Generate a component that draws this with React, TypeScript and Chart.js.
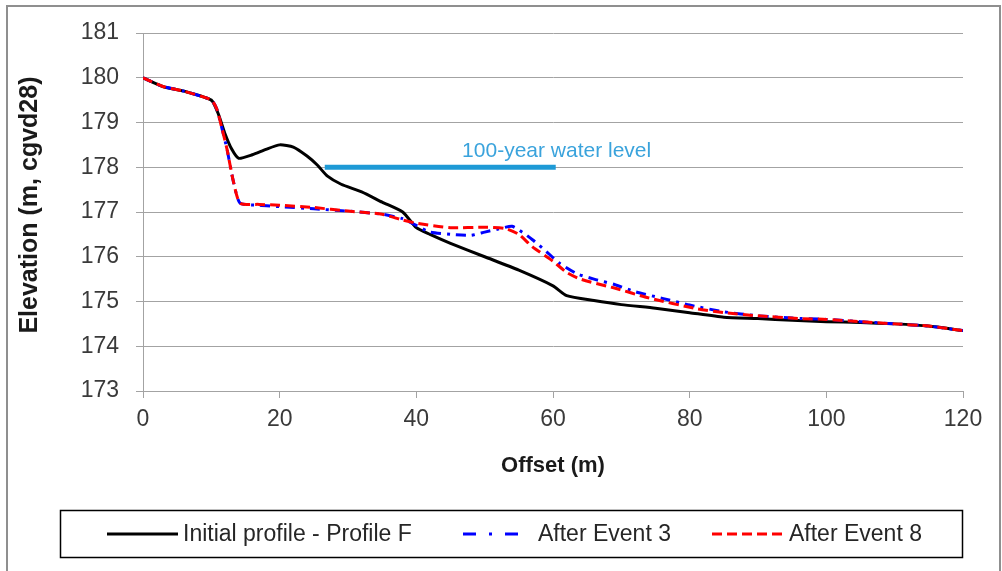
import React, { useEffect, useRef } from "react";
import { Chart, registerables } from "chart.js";
Chart.register(...registerables);

// ---- data ----
const initialOffset = [0, 3, 6, 10, 11, 12, 13, 14, 16, 18, 20, 22, 24, 25.5, 27, 29, 32, 35, 38, 40, 42, 45, 50, 55, 60, 62, 66, 70, 75, 80, 85, 90, 95, 100, 105, 110, 115, 120];
const initialElev = [180, 179.8, 179.7, 179.5, 179.2, 178.75, 178.4, 178.2, 178.28, 178.4, 178.5, 178.45, 178.25, 178.05, 177.8, 177.62, 177.45, 177.22, 177.0, 176.65, 176.5, 176.3, 176.0, 175.7, 175.35, 175.13, 175.02, 174.93, 174.85, 174.75, 174.65, 174.62, 174.58, 174.55, 174.53, 174.5, 174.45, 174.35];

const event3Offset = [0, 3, 6, 10, 10.8, 11.5, 12.3, 13.2, 14.2, 17, 20, 25, 30, 35, 38, 40, 42, 45, 48, 50, 52, 54, 55.5, 57, 59, 61, 63.5, 66, 69, 72, 76, 80, 85, 90, 95, 100, 105, 110, 115, 120];
const event3Elev = [180, 179.8, 179.7, 179.5, 179.3, 178.9, 178.4, 177.7, 177.2, 177.15, 177.12, 177.07, 177.02, 176.95, 176.85, 176.7, 176.55, 176.5, 176.48, 176.55, 176.62, 176.68, 176.55, 176.38, 176.12, 175.85, 175.62, 175.5, 175.38, 175.22, 175.07, 174.92, 174.77, 174.68, 174.63, 174.6, 174.55, 174.5, 174.45, 174.35];

const event8Offset = [0, 3, 6, 10, 10.8, 11.5, 12.3, 13.2, 14.2, 17, 20, 25, 30, 35, 38, 40, 45, 50, 53, 55, 57, 60, 62, 64, 69, 74, 81, 85, 90, 96, 100, 105, 110, 115, 120];
const event8Elev = [180, 179.8, 179.7, 179.5, 179.3, 178.9, 178.4, 177.7, 177.2, 177.17, 177.15, 177.1, 177.02, 176.95, 176.82, 176.75, 176.65, 176.66, 176.63, 176.5, 176.22, 175.9, 175.65, 175.5, 175.3, 175.08, 174.84, 174.75, 174.68, 174.62, 174.6, 174.55, 174.5, 174.45, 174.35];

const waterOffset = [26.6, 60.4];
const waterElev = [178, 178];
const waterLabel = "100-year water level";
const waterLabelPos = [46.7, 178.36];

const seriesLabels = ["Initial profile - Profile F", "After Event 3", "After Event 8"];
const xTitle = "Offset (m)";
const yTitle = "  Elevation (m, cgvd28)";
const xRange = [0, 120, 20];
const yRange = [173, 181, 1];

const FONT = '"Liberation Sans", Arial, sans-serif';

const zip = (xs: number[], ys: number[]) => xs.map((x, i) => ({ x, y: ys[i] }));

const legendItems = [
  { x0: 107, x1: 178, tx: 183, dash: [] as number[] },
  { x0: 463, x1: 520, tx: 538, dash: [13, 13, 3, 13] },
  { x0: 712, x1: 783, tx: 789, dash: [10, 5] },
];

const boxLegend = {
  id: "boxLegend",
  afterDraw(chart: any) {
    const ctx = chart.ctx;
    ctx.save();
    // water label
    const xs = chart.scales.x, ys = chart.scales.y;
    ctx.font = `21px ${FONT}`;
    ctx.fillStyle = "#3aa3dc";
    ctx.textBaseline = "middle";
    ctx.textAlign = "left";
    ctx.fillText(waterLabel, xs.getPixelForValue(waterLabelPos[0]), ys.getPixelForValue(waterLabelPos[1]));
    // legend box
    ctx.strokeStyle = "#000";
    ctx.lineWidth = 1.5;
    ctx.strokeRect(60.5, 510.5, 902, 47);
    legendItems.forEach((it, i) => {
      const ds = chart.data.datasets[i];
      ctx.beginPath();
      ctx.setLineDash(it.dash);
      ctx.strokeStyle = ds.borderColor;
      ctx.lineWidth = 3;
      ctx.moveTo(it.x0, 534);
      ctx.lineTo(it.x1, 534);
      ctx.stroke();
      ctx.setLineDash([]);
      ctx.fillStyle = "#262626";
      ctx.font = `23px ${FONT}`;
      ctx.textBaseline = "middle";
      ctx.fillText(ds.label, it.tx, 535);
    });
    ctx.restore();
  },
};

export default function App() {
  const ref = useRef<HTMLCanvasElement | null>(null);
  useEffect(() => {
    if (!ref.current) return;
    const gridGray = "#a3a3a3";
    const chart = new Chart(ref.current, {
      type: "line",
      data: {
        datasets: [
          { label: seriesLabels[0], data: zip(initialOffset, initialElev), borderColor: "#000000", borderWidth: 3, pointRadius: 0, tension: 0.2, order: 3 },
          { label: seriesLabels[1], data: zip(event3Offset, event3Elev), borderColor: "#0000ff", borderWidth: 3, borderDash: [10, 6, 3, 6], pointRadius: 0, tension: 0.2, order: 2 },
          { label: seriesLabels[2], data: zip(event8Offset, event8Elev), borderColor: "#ff0000", borderWidth: 3, borderDash: [10, 5], pointRadius: 0, tension: 0.2, order: 1 },
          { label: waterLabel, data: zip(waterOffset, waterElev), borderColor: "#1e9ad6", borderWidth: 5, pointRadius: 0, order: 0 },
        ],
      },
      options: {
        animation: false,
        responsive: false,
        devicePixelRatio: 1,
        layout: { padding: { left: 0, right: 39, top: 33, bottom: 92 } },
        plugins: { legend: { display: false }, tooltip: { enabled: false } },
        scales: {
          x: {
            type: "linear",
            min: xRange[0],
            max: xRange[1],
            ticks: { stepSize: xRange[2], padding: 8, color: "#3a3a3a", font: { family: FONT, size: 23 } },
            grid: { drawOnChartArea: false, drawTicks: true, tickLength: 7, color: gridGray },
            border: { color: gridGray, width: 1 },
            title: { display: true, text: xTitle, color: "#1a1a1a", font: { family: FONT, size: 22, weight: "bold" }, padding: { top: 11, bottom: 0 } },
          },
          y: {
            type: "linear",
            min: yRange[0],
            max: yRange[1],
            ticks: { stepSize: yRange[2], padding: 17, color: "#3a3a3a", font: { family: FONT, size: 23 } },
            grid: { drawTicks: true, tickLength: 7, color: gridGray },
            border: { color: gridGray, width: 1 },
            title: { display: true, text: yTitle, color: "#1a1a1a", font: { family: FONT, size: 25, weight: "bold" }, padding: { top: 15, bottom: 0 } },
            afterFit: (s: any) => { s.width = 143; },
          },
        },
      },
      plugins: [boxLegend],
    });
    return () => chart.destroy();
  }, []);
  return (
    <div style={{ position: "absolute", left: 0, top: 0, width: 1002, height: 571, overflow: "hidden", background: "#fff" }}>
      <div style={{ position: "absolute", left: 6, top: 5, width: 991, height: 600, border: "2px solid #8f8f8f" }} />
      <canvas ref={ref} width={1002} height={571} style={{ position: "absolute", left: 0, top: 0, display: "block" }} />
    </div>
  );
}
